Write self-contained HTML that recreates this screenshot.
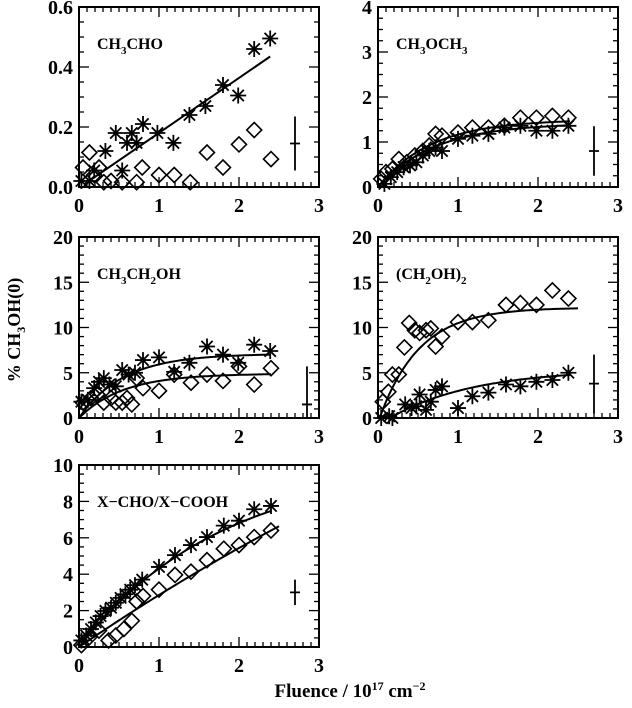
<!DOCTYPE html>
<html><head><meta charset="utf-8">
<style>
html,body{margin:0;padding:0;background:#fff;}
svg{display:block;}
text{font-family:"Liberation Serif",serif;font-weight:bold;fill:#000;}
</style></head>
<body>
<svg id="fig" width="632" height="708" viewBox="0 0 632 708" xmlns="http://www.w3.org/2000/svg">
<text x="0" y="0" font-size="18" text-anchor="middle" transform="translate(20,330) rotate(-90)">% CH<tspan font-size="12" dy="5">3</tspan><tspan dy="-5">OH(0)</tspan></text>
<text x="350" y="697" font-size="19" text-anchor="middle">Fluence / 10<tspan font-size="12" dy="-7">17</tspan><tspan dy="7"> cm</tspan><tspan font-size="12" dy="-7">−2</tspan></text>
</svg>
<script>
// Panel 1: CH3CHO
const p1StarX=[0.03,0.13,0.19,0.33,0.46,0.54,0.6,0.66,0.72,0.8,0.98,1.18,1.38,1.58,1.8,1.99,2.19,2.39];
const p1StarY=[0.02,0.02,0.055,0.12,0.18,0.055,0.147,0.18,0.147,0.21,0.18,0.147,0.24,0.27,0.34,0.305,0.46,0.495];
const p1DiaX=[0.05,0.13,0.19,0.25,0.31,0.4,0.54,0.72,0.79,1.0,1.19,1.39,1.6,1.8,2.0,2.19,2.4];
const p1DiaY=[0.065,0.115,0.04,0.065,0.016,0.02,0.016,0.016,0.065,0.04,0.04,0.016,0.115,0.065,0.142,0.19,0.093];
const p1LineX=[0.07,2.39];
const p1LineY=[0.01,0.435];
// Panel 2: CH3OCH3
const p2DiaX=[0.04,0.1,0.18,0.26,0.36,0.46,0.56,0.64,0.72,0.8,1.0,1.18,1.38,1.58,1.78,1.98,2.18,2.38];
const p2DiaY=[0.18,0.33,0.4,0.62,0.55,0.7,0.8,0.92,1.18,1.14,1.21,1.32,1.32,1.36,1.54,1.54,1.58,1.54];
const p2StarX=[0.08,0.16,0.24,0.32,0.4,0.48,0.56,0.64,0.72,0.8,1.0,1.18,1.38,1.58,1.78,1.98,2.18,2.38];
const p2StarY=[0.07,0.22,0.33,0.44,0.48,0.55,0.7,0.8,0.88,0.8,1.07,1.14,1.18,1.32,1.36,1.25,1.25,1.36];
const p2FitA=[1.5,1.42], p2FitK=[1.5,1.4], p2FitX0=[0,0], p2FitX1=[2.4,2.4];
// Panel 3: CH3CH2OH
const p3StarX=[0.03,0.11,0.19,0.25,0.31,0.38,0.46,0.54,0.62,0.7,0.8,1.0,1.19,1.38,1.6,1.8,1.99,2.19,2.39];
const p3StarY=[1.8,2.0,3.3,4.0,4.4,3.7,3.5,5.3,4.8,5.0,6.4,6.7,5.1,6.1,7.9,7.0,6.1,8.1,7.4];
const p3DiaX=[0.05,0.15,0.23,0.31,0.4,0.46,0.54,0.6,0.66,0.72,0.8,1.0,1.19,1.4,1.6,1.8,2.0,2.19,2.4];
const p3DiaY=[1.7,2.2,2.6,1.7,2.2,1.7,1.7,2.2,1.5,4.4,3.3,3.0,4.8,3.9,4.8,4.1,5.7,3.7,5.5];
const p3FitA=[7.1,4.9], p3FitK=[1.8,1.8], p3FitX0=[0,0], p3FitX1=[2.4,2.4];
// Panel 4: (CH2OH)2
const p4DiaX=[0.06,0.13,0.18,0.26,0.33,0.39,0.46,0.52,0.6,0.66,0.72,0.8,1.0,1.18,1.38,1.6,1.78,1.98,2.18,2.38];
const p4DiaY=[1.8,2.9,4.8,4.8,7.8,10.5,9.7,9.4,9.7,9.9,7.9,9.0,10.6,10.6,10.8,12.5,12.7,12.5,14.1,13.2];
const p4StarX=[0.04,0.14,0.18,0.34,0.42,0.48,0.52,0.6,0.66,0.72,0.8,1.0,1.18,1.38,1.6,1.78,1.98,2.18,2.38];
const p4StarY=[0,0.2,0,1.5,1.1,1.3,2.6,0.9,1.8,3.1,3.5,1.1,2.4,2.8,3.7,3.5,4.0,4.2,5.0];
const p4FitA=[12.2,5.4], p4FitK=[2.0,0.95], p4FitX0=[0.02,0.15], p4FitX1=[2.5,2.4];
// Panel 5: X-CHO/X-COOH
const p5StarX=[0.03,0.09,0.15,0.21,0.27,0.33,0.4,0.46,0.52,0.58,0.64,0.7,0.79,1.0,1.2,1.4,1.6,1.81,2.0,2.19,2.4];
const p5StarY=[0.36,0.63,0.99,1.35,1.7,1.98,2.16,2.43,2.7,2.9,3.15,3.4,3.7,4.4,5.05,5.6,6.04,6.67,6.94,7.57,7.75];
const p5DiaX=[0.03,0.13,0.25,0.37,0.46,0.56,0.66,0.72,0.8,1.0,1.2,1.4,1.6,1.81,2.0,2.19,2.4];
const p5DiaY=[0.1,0.54,0.9,0.36,0.63,0.99,1.44,2.5,2.8,3.15,3.96,4.14,4.77,5.4,5.6,6.04,6.4];
const p5FitA=[10.2,30], p5FitK=[0.55,0.1], p5FitX0=[0,0], p5FitX1=[2.4,2.5];
// Error bars
const errX=[2.7,2.7,2.85,2.7,2.7];
const errC=[0.145,0.8,1.5,3.8,3.0];
const errLo=[0.055,0.25,0,0.5,2.3];
const errHi=[0.235,1.35,5.7,7.0,3.7];
const ticks1=["0.0","0.2","0.4","0.6"], ticks2=["0","1","2","3","4"], ticks34=["0","5","10","15","20"], ticks5=["0","2","4","6","8","10"];
const xTicks=["0","1","2","3"];

const NS="http://www.w3.org/2000/svg";
const svg=document.getElementById('fig');
function mk(tag,attrs,parent){const e=document.createElementNS(NS,tag);for(const k in attrs)e.setAttribute(k,attrs[k]);(parent||svg).appendChild(e);return e;}

function panel(def){
  const g=mk('g',{});
  
  
  const L=def.left,R=def.left+240,T=def.top,B=def.top+def.h;
  const sx=v=>L+v/3*(R-L);
  const sy=v=>B-v/def.ymax*(B-T);
  const fr=mk('rect',{x:L,y:T,width:R-L,height:B-T,fill:'none',stroke:'#000','stroke-width':2},g);
  
  
  for(let i=0;i<=30;i++){const x=sx(i/10);const len=i%10===0?10:5;
    mk('line',{x1:x,y1:B,x2:x,y2:B-len,stroke:'#000','stroke-width':1.3},g);
    mk('line',{x1:x,y1:T,x2:x,y2:T+len,stroke:'#000','stroke-width':1.3},g);}
  xTicks.forEach((t,i)=>{const tx=mk('text',{x:sx(i),y:B+25,'font-size':20,'text-anchor':'middle'},g);tx.textContent=t;
    
    });
  const n=def.ticks.length-1,mn=def.minor;
  for(let i=0;i<=n*mn;i++){const y=sy(i/(n*mn)*def.ymax);const len=i%mn===0?10:5;
    mk('line',{x1:L,y1:y,x2:L+len,y2:y,stroke:'#000','stroke-width':1.3},g);
    mk('line',{x1:R,y1:y,x2:R-len,y2:y,stroke:'#000','stroke-width':1.3},g);}
  def.ticks.forEach((t,i)=>{const tx=mk('text',{x:L-6,y:sy(i/n*def.ymax)+7,'font-size':20,'text-anchor':'end'},g);tx.textContent=t;
    
    });
  const lb=mk('text',{x:L+18,y:T+42,'font-size':16},g);lb.innerHTML=def.label;
  
  
  def.fits.forEach(f=>{let d='';
    if(f.lin){d='M'+sx(f.lin[0][0])+','+sy(f.lin[1][0])+'L'+sx(f.lin[0][1])+','+sy(f.lin[1][1]);}
    else{for(let k=0;k<=80;k++){const x=f.x0+(f.x1-f.x0)*k/80;const y=f.A*(1-Math.exp(-f.k*(x-f.x0)));d+=(k?'L':'M')+sx(x).toFixed(1)+','+sy(y).toFixed(1);}}
    const p=mk('path',{d:d,fill:'none',stroke:'#000','stroke-width':2},g);
    
    });
  def.dX.forEach((x,i)=>{const cx=sx(x),cy=sy(def.dY[i]),s=7.5;
    const p=mk('path',{d:`M${cx},${cy-s}L${cx+s},${cy}L${cx},${cy+s}L${cx-s},${cy}Z`,fill:'none',stroke:'#000','stroke-width':1.6},g);
    
    });
  def.sX.forEach((x,i)=>{const cx=sx(x),cy=sy(def.sY[i]),s=8;let d='';
    for(let a=0;a<4;a++){const an=a*Math.PI/4;const dx=s*Math.cos(an),dy=s*Math.sin(an);d+=`M${cx-dx},${cy-dy}L${cx+dx},${cy+dy}`;}
    const p=mk('path',{d:d,fill:'none',stroke:'#000','stroke-width':1.8},g);
    
    });
  const e=def.err;
  const eb=mk('path',{d:`M${sx(errX[e])},${sy(errLo[e])}L${sx(errX[e])},${sy(errHi[e])}M${sx(errX[e])-5},${sy(errC[e])}L${sx(errX[e])+5},${sy(errC[e])}`,stroke:'#000','stroke-width':1.8,fill:'none'},g);
  
  
}
const sub=t=>`<tspan font-size="11" dy="5">${t}</tspan><tspan dy="-5">`;
panel({name:'panel-ch3cho',left:79,top:7,h:180,ymax:0.6,ticks:ticks1,minor:4,label:'CH'+sub('3')+'CHO</tspan>',
  sX:p1StarX,sY:p1StarY,dX:p1DiaX,dY:p1DiaY,fits:[{lin:[p1LineX,p1LineY]}],err:0});
panel({name:'panel-ch3och3',left:378,top:7,h:180,ymax:4,ticks:ticks2,minor:4,label:'CH'+sub('3')+'OCH</tspan>'+sub('3')+'</tspan>',
  sX:p2StarX,sY:p2StarY,dX:p2DiaX,dY:p2DiaY,fits:p2FitA.map((A,i)=>({A,k:p2FitK[i],x0:p2FitX0[i],x1:p2FitX1[i]})),err:1});
panel({name:'panel-ch3ch2oh',left:79,top:237,h:181,ymax:20,ticks:ticks34,minor:5,label:'CH'+sub('3')+'CH</tspan>'+sub('2')+'OH</tspan>',
  sX:p3StarX,sY:p3StarY,dX:p3DiaX,dY:p3DiaY,fits:p3FitA.map((A,i)=>({A,k:p3FitK[i],x0:p3FitX0[i],x1:p3FitX1[i]})),err:2});
panel({name:'panel-ch2oh2',left:378,top:237,h:181,ymax:20,ticks:ticks34,minor:5,label:'(CH'+sub('2')+'OH)</tspan>'+sub('2')+'</tspan>',
  sX:p4StarX,sY:p4StarY,dX:p4DiaX,dY:p4DiaY,fits:p4FitA.map((A,i)=>({A,k:p4FitK[i],x0:p4FitX0[i],x1:p4FitX1[i]})),err:3});
panel({name:'panel-xcho-xcooh',left:79,top:465,h:182,ymax:10,ticks:ticks5,minor:4,label:'X−CHO/X−COOH',
  sX:p5StarX,sY:p5StarY,dX:p5DiaX,dY:p5DiaY,fits:p5FitA.map((A,i)=>({A,k:p5FitK[i],x0:p5FitX0[i],x1:p5FitX1[i]})),err:4});
</script>
</body></html>
